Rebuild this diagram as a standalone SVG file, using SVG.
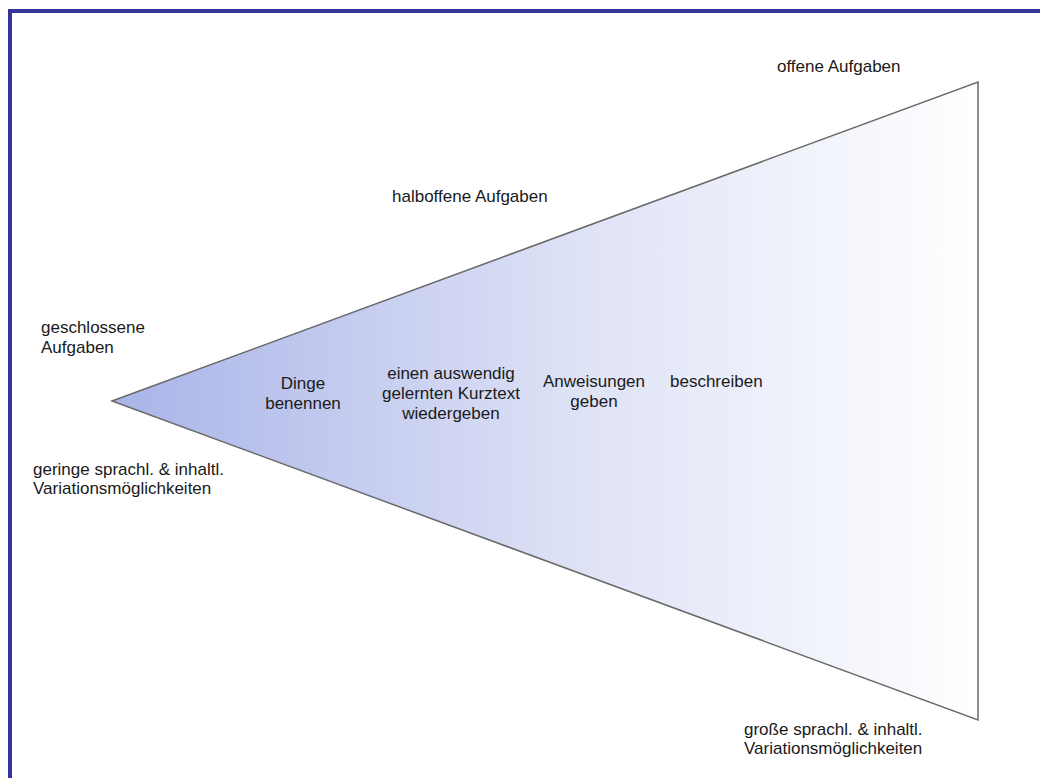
<svg xmlns="http://www.w3.org/2000/svg" width="1040" height="778" viewBox="0 0 1040 778">
<style>
text { font-family: "Liberation Sans", Arial, sans-serif; font-size: 17px; fill: #1a1a1a; }
.c { text-anchor: middle; }
</style>
<defs>
<linearGradient id="fade" gradientUnits="userSpaceOnUse" x1="112" y1="0" x2="978" y2="0">
<stop offset="0" stop-color="#a9b4e8"/>
<stop offset="0.55" stop-color="#dfe3f6"/>
<stop offset="1" stop-color="#ffffff"/>
</linearGradient>
</defs>
<rect x="0" y="0" width="1040" height="778" fill="#ffffff"/>
<rect x="10" y="11" width="1200" height="1000" fill="none" stroke="#333399" stroke-width="4"/>
<g id="funnel">
<polygon points="112,401 978,82 978,720" fill="url(#fade)" stroke="#6a6a6a" stroke-width="1.5"/>
</g>
<g id="label-offene"><text x="777" y="72">offene Aufgaben</text></g>
<g id="label-halboffene"><text x="392" y="202">halboffene Aufgaben</text></g>
<g id="label-geschlossene"><text x="41" y="333">geschlossene</text><text x="41" y="353">Aufgaben</text></g>
<g id="label-geringe"><text x="33" y="475">geringe sprachl. &amp; inhaltl.</text><text x="33" y="494">Variationsmöglichkeiten</text></g>
<g id="label-grosse"><text x="744" y="735">große sprachl. &amp; inhaltl.</text><text x="744" y="754">Variationsmöglichkeiten</text></g>
<g id="item-dinge"><text class="c" x="303" y="389">Dinge</text><text class="c" x="303" y="409">benennen</text></g>
<g id="item-kurztext"><text class="c" x="451" y="379">einen auswendig</text><text class="c" x="451" y="399">gelernten Kurztext</text><text class="c" x="451" y="419">wiedergeben</text></g>
<g id="item-anweisungen"><text class="c" x="594" y="387">Anweisungen</text><text class="c" x="594" y="407">geben</text></g>
<g id="item-beschreiben"><text x="670" y="387">beschreiben</text></g>
</svg>
